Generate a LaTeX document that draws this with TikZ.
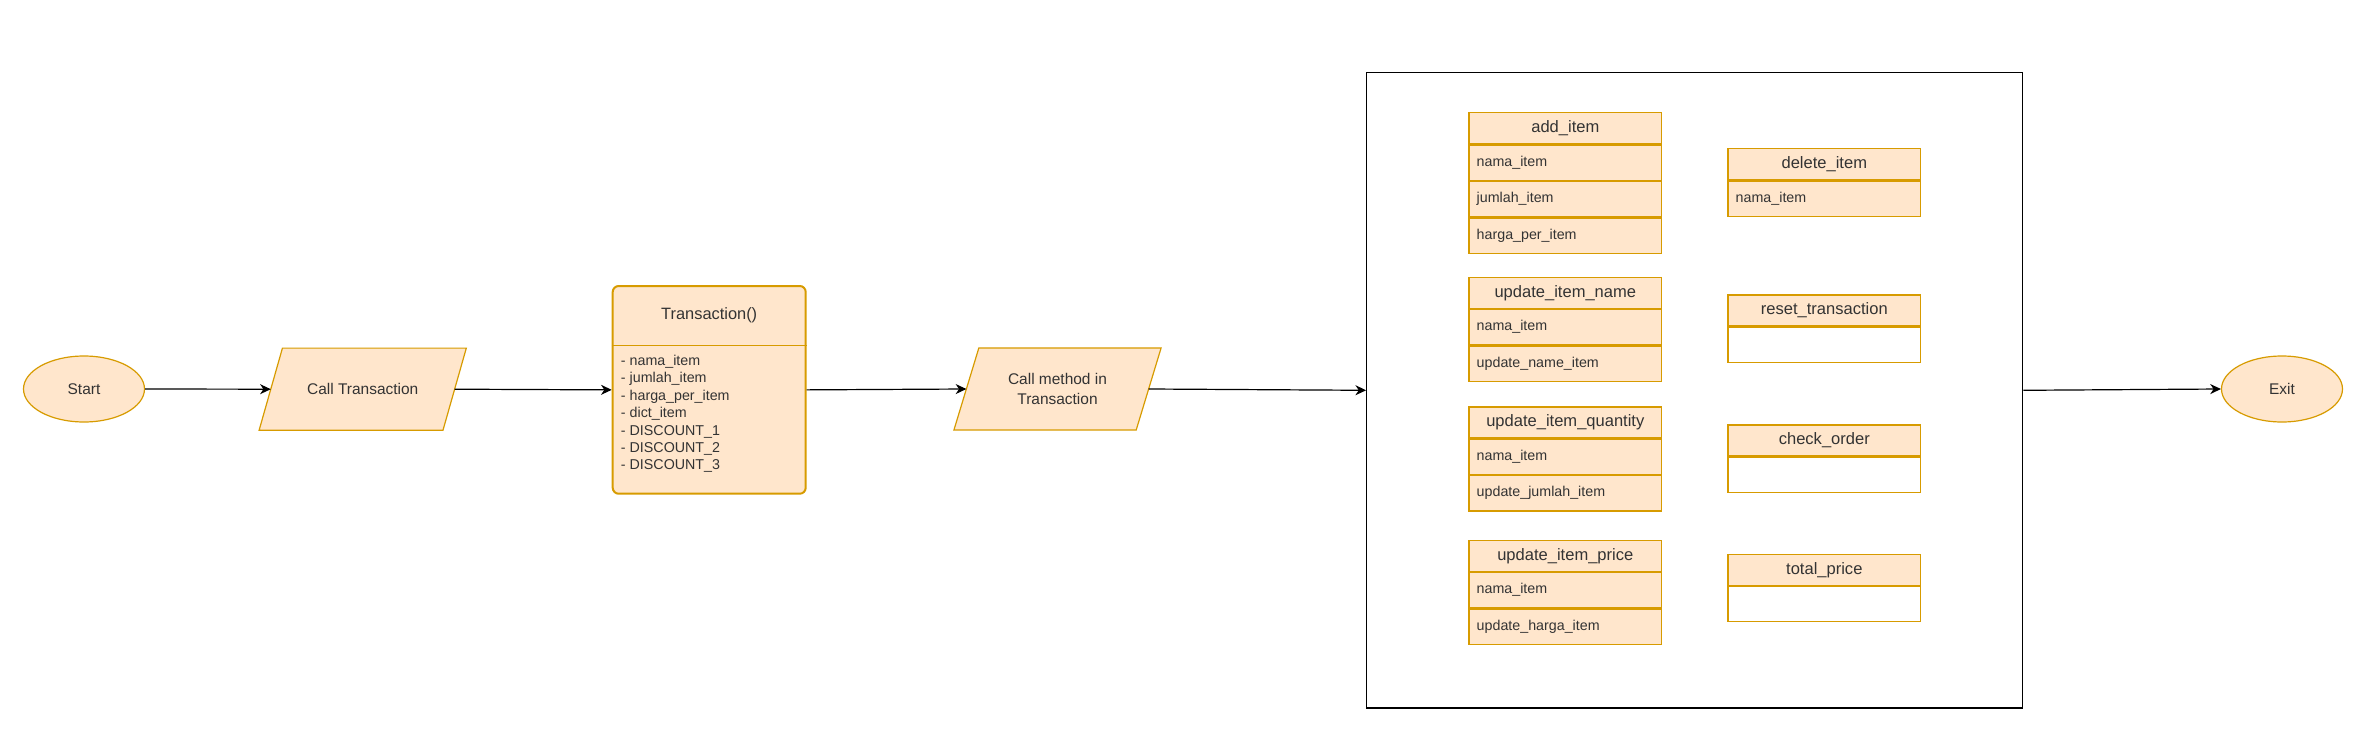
\documentclass[tikz,border=0pt]{standalone}
\usepackage{fontspec}
\setmainfont{Liberation Sans}
\usepackage{xcolor}
\usepackage{tikz}
\usetikzlibrary{shapes.geometric,arrows.meta,backgrounds}
\definecolor{orfill}{HTML}{FFE6CC}
\definecolor{orline}{HTML}{D79B00}
\definecolor{txt}{HTML}{333333}
\begin{document}
\begin{tikzpicture}[%
x=0.75pt, y=-0.75pt,
>={Stealth[length=8pt,width=7.5pt,inset=2.5pt]},
% common options for start and exit:
term/.style = {ellipse, draw=orline, fill=orfill, line width=0.9pt, text=txt,
            minimum width=90.75pt, minimum height=49.5pt, inner sep=0,
            font=\fontsize{11.6}{14}\selectfont},
% common options for the parallelograms (outline drawn behind):
para/.style = {rectangle, text=txt, minimum width=155pt, minimum height=61.2pt,
            inner sep=0, align=center, font=\fontsize{11.6}{14.5}\selectfont},
paraline/.style = {draw=orline, fill=orfill, line width=0.9pt, line join=miter},
% common options for the method titles:
title/.style = {draw=orline, fill=orfill, line width=0.9pt, text=txt, anchor=north,
            minimum width=144.5pt, minimum height=23.25pt, inner sep=0,
            font=\fontsize{12.4}{14}\selectfont},
% common options for the method rows:
row/.style = {draw=orline, fill=orfill, line width=0.9pt, text=txt, anchor=north,
            text width=132.9pt, inner xsep=5.8pt, inner ysep=0, align=left,
            minimum height=26.5pt, font=\fontsize{10.7}{12}\selectfont}]
\useasboundingbox (0,0) rectangle (2363,756);
\node[term] (S0) at (84,389) {Start};
\node[para] (C1) at (362.7,389.2) {Call Transaction};
% the class box
\node[draw=orline, fill=orfill, line width=1.5pt, rounded corners=4.5pt, anchor=north,
      minimum width=144.75pt, minimum height=155.8pt] (T0) at (709.2,285) {};
\node[anchor=north, minimum height=45pt, inner sep=0, text=txt,
      font=\fontsize{12.3}{14}\selectfont] (T1) at (T0.north) {Transaction()};
\draw[orline, line width=0.75pt] (T0.west |- T1.south) -- (T0.east |- T1.south);
\node[anchor=west, align=left, inner sep=0, text=txt,
      font=\fontsize{10.7}{13.1}\selectfont] (T2) at (620.7,413.8)
      {- nama\_item\\- jumlah\_item\\- harga\_per\_item\\- dict\_item\\- DISCOUNT\_1\\- DISCOUNT\_2\\- DISCOUNT\_3};
\node[para] (C2) at (1057.5,389) {Call method in\\Transaction};
\node[draw=black, line width=0.9pt, minimum width=492pt, minimum height=476.6pt,
      inner sep=0] (M0) at (1694.7,390.3) {};
\node[term] (E0) at (2282,389) {Exit};
% parallelogram outlines
\begin{scope}[on background layer]
\draw[paraline] ([xshift=17.5pt]C1.north west) -- (C1.north east)
      -- ([xshift=-17.5pt]C1.south east) -- (C1.south west) -- cycle;
\draw[paraline] ([xshift=18.7pt]C2.north west) -- (C2.north east)
      -- ([xshift=-18.7pt]C2.south east) -- (C2.south west) -- cycle;
\end{scope}
% left column of methods
\node[title] (L1) at (1565.3,112.3) {add\_item};
\node[row] (L1a) at (L1.south) {nama\_item};
\node[row] (L1b) at (L1a.south) {jumlah\_item};
\node[row] (L1c) at (L1b.south) {harga\_per\_item};
\node[title] (L2) at (1565.3,276.7) {update\_item\_name};
\node[row] (L2a) at (L2.south) {nama\_item};
\node[row] (L2b) at (L2a.south) {update\_name\_item};
\node[title] (L3) at (1565.3,406.3) {update\_item\_quantity};
\node[row] (L3a) at (L3.south) {nama\_item};
\node[row] (L3b) at (L3a.south) {update\_jumlah\_item};
\node[title] (L4) at (1565.3,539.7) {update\_item\_price};
\node[row] (L4a) at (L4.south) {nama\_item};
\node[row] (L4b) at (L4a.south) {update\_harga\_item};
% right column of methods
\node[title] (R1) at (1824.3,148.3) {delete\_item};
\node[row] (R1a) at (R1.south) {nama\_item};
\node[title] (R2) at (1824.3,294.3) {reset\_transaction};
\node[row, fill=white] (R2a) at (R2.south) {};
\node[title] (R3) at (1824.3,424.3) {check\_order};
\node[row, fill=white] (R3a) at (R3.south) {};
\node[title] (R4) at (1824.3,553.7) {total\_price};
\node[row, fill=white] (R4a) at (R4.south) {};
\draw[->, line width=0.9pt] (S0.east) to ([xshift=8.75pt]C1.west);
\draw[->, line width=0.9pt] ([xshift=-8.75pt]C1.east) to (T0.west);
\draw[->, line width=0.9pt] (T0.east) to ([xshift=9.35pt]C2.west);
\draw[->, line width=0.9pt] ([xshift=-9.35pt]C2.east) to (M0.west);
\draw[->, line width=0.9pt] (M0.east) to (E0.west);
\end{tikzpicture}
\end{document}
